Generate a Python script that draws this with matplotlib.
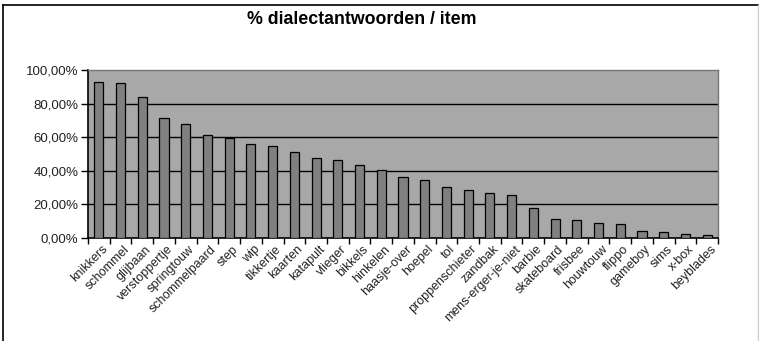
import matplotlib
matplotlib.use("Agg")
import matplotlib.pyplot as plt
import matplotlib.ticker as mticker
from matplotlib.lines import Line2D
import numpy as np

# ===============================
# DATA
# ===============================

items = ["knikkers", "schommel", "glijbaan", "verstoppertje", "springtouw",
         "schommelpaard", "step", "wip", "tikkertje", "kaarten", "katapult",
         "vlieger", "bikkels", "hinkelen", "haasje-over", "hoepel", "tol",
         "proppenschieter", "zandbak", "mens-erger-je-niet", "barbie",
         "skateboard", "frisbee", "houwtouw", "flippo", "gameboy", "sims",
         "x-box", "beyblades"]

pct = [92.8, 92.0, 84.1, 71.2, 67.8, 61.2, 59.6, 55.7, 54.9, 51.3, 47.7,
       46.1, 43.3, 40.2, 36.2, 34.2, 30.4, 28.2, 26.8, 25.4, 17.5,
       11.1, 10.3, 8.9, 8.2, 4.0, 3.4, 2.4, 1.8]

yticks = [0, 20, 40, 60, 80, 100]

plt.rcParams["font.family"] = ["Liberation Sans", "DejaVu Sans"]

fig = plt.figure(figsize=(7.59, 3.41), dpi=100)
ax = fig.add_axes([88/759, 103.3/341, 630/759, 167.7/341])

x = np.arange(len(items))
ax.set_facecolor("#a8a8a8")
ax.bar(x, pct, width=0.42, color="#808080", edgecolor="black",
       linewidth=0.9, zorder=3)

ax.set_xlim(-0.5, len(items) - 0.5)
ax.set_ylim(0, 100)

# gridlines
ax.set_yticks(yticks)
ax.yaxis.set_major_formatter(
    mticker.FuncFormatter(lambda v, _: f"{v:.2f}%".replace(".", ","))
)
for v in yticks[1:-1]:
    ax.axhline(v, color="black", linewidth=1.0, zorder=1)

# category labels
ax.set_xticks(x + 0.12)
ax.set_xticklabels(items, rotation=45, ha="right", va="top",
                   rotation_mode="anchor", fontsize=9, color="#222222")
ax.tick_params(axis="x", which="major", length=0, pad=4)
ax.set_xticks(np.arange(len(items) + 1) - 0.5, minor=True)
ax.tick_params(axis="x", which="minor", length=4, width=1, color="black",
               direction="out")
ax.tick_params(axis="y", length=5, width=1, direction="out",
               labelsize=9.5, labelcolor="#222222", pad=2)

for s in ["left", "bottom"]:
    ax.spines[s].set_color("black")
    ax.spines[s].set_linewidth(1.2)
for s in ["top", "right"]:
    ax.spines[s].set_color("#777777")
    ax.spines[s].set_linewidth(1.0)

fig.text(362/759, 1 - 20/341, "% dialectantwoorden / item", ha="center",
         va="center", fontsize=12.8, fontweight="bold")

# frame around the whole picture
fig.add_artist(Line2D([3/759, 3/759], [0, 1 - 5/341], color="black",
                      linewidth=1.2, transform=fig.transFigure))
fig.add_artist(Line2D([3/759, 1], [1 - 5/341, 1 - 5/341], color="black",
                      linewidth=1.2, transform=fig.transFigure))
fig.add_artist(Line2D([757.5/759, 757.5/759], [0, 1 - 5/341], color="#cccccc",
                      linewidth=1.0, transform=fig.transFigure))

fig.savefig("out.png", dpi=100)
